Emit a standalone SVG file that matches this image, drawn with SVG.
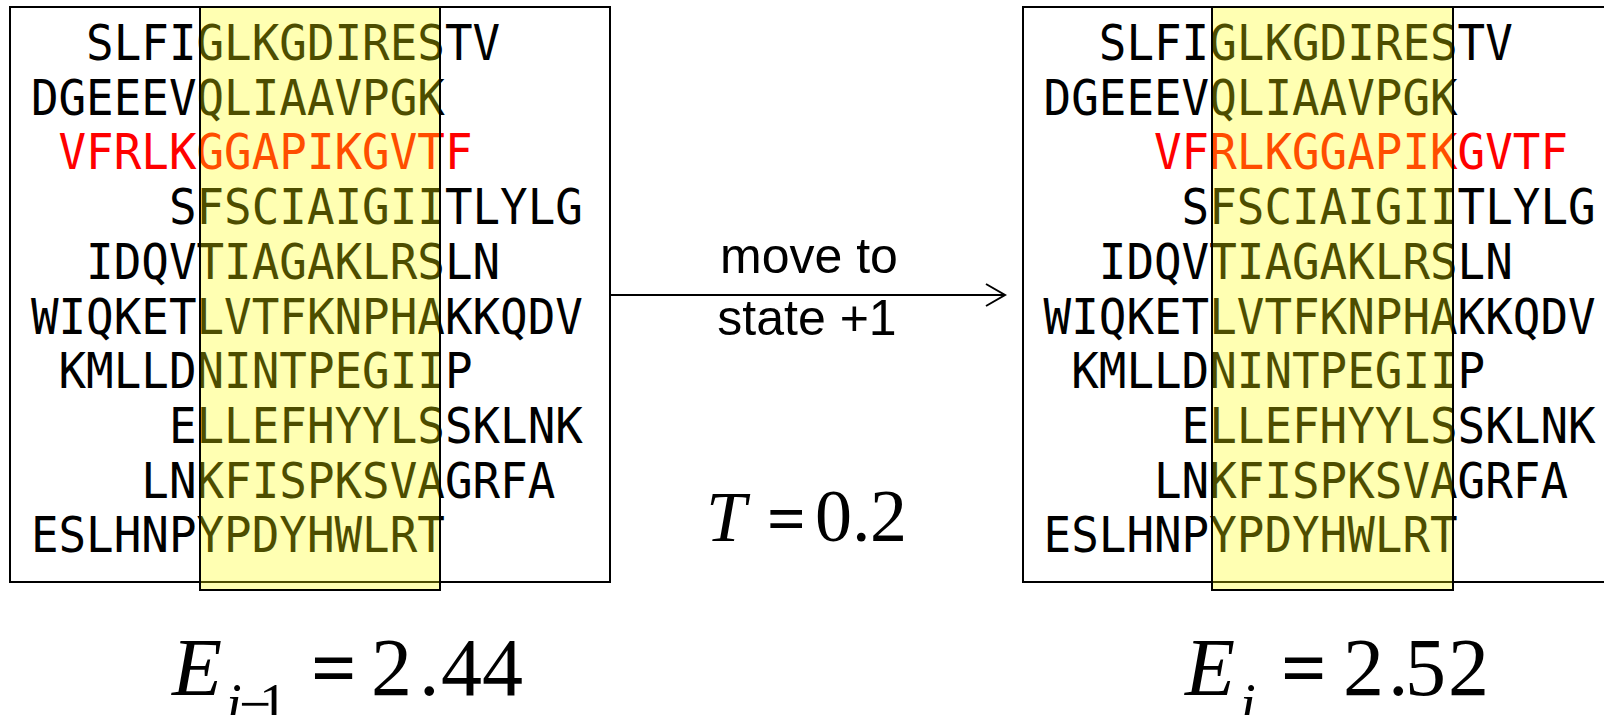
<svg xmlns="http://www.w3.org/2000/svg" width="1604" height="715" viewBox="0 0 1604 715">
  <style>
    .frame { fill: #ffffff; stroke: #000000; stroke-width: 2; }
    .window { fill: #ffff00; fill-opacity: 0.3; stroke: #000000; stroke-width: 2; }
    .seq { font-family: "DejaVu Sans Mono", "Liberation Mono", monospace; font-size: 49px; fill: #000000; }
    .hit { fill: #ff0000; }
    .label { font-family: "Liberation Sans", Arial, sans-serif; font-size: 50px; fill: #000000; text-anchor: middle; }
    .math { font-family: "Liberation Serif", "Times New Roman", serif; fill: #000000; }
    .it { font-style: italic; }
    .eq { font-weight: bold; }
    .edge { stroke: #000000; stroke-width: 2; fill: none; }
  </style>
  <defs>
    <marker id="chevron" markerUnits="userSpaceOnUse" markerWidth="24" markerHeight="26" refX="20" refY="12" orient="auto">
      <path d="M1,1 L20,12 L1,23" fill="none" stroke="#000000" stroke-width="2"/>
    </marker>
  </defs>

  <!-- state i-1: alignment with sliding window -->
  <g id="state-prev">
    <rect class="frame" x="10" y="7" width="600" height="575"/>
    <text class="seq" x="86.1" y="60" textLength="414" lengthAdjust="spacingAndGlyphs">SLFIGLKGDIRESTV</text>
    <text class="seq" x="30.9" y="114.7" textLength="414" lengthAdjust="spacingAndGlyphs">DGEEEVQLIAAVPGK</text>
    <text class="seq hit" x="58.5" y="169.4" textLength="414" lengthAdjust="spacingAndGlyphs">VFRLKGGAPIKGVTF</text>
    <text class="seq" x="168.9" y="224.1" textLength="414" lengthAdjust="spacingAndGlyphs">SFSCIAIGIITLYLG</text>
    <text class="seq" x="86.1" y="278.8" textLength="414" lengthAdjust="spacingAndGlyphs">IDQVTIAGAKLRSLN</text>
    <text class="seq" x="30.9" y="333.5" textLength="552" lengthAdjust="spacingAndGlyphs">WIQKETLVTFKNPHAKKQDV</text>
    <text class="seq" x="58.5" y="388.2" textLength="414" lengthAdjust="spacingAndGlyphs">KMLLDNINTPEGIIP</text>
    <text class="seq" x="168.9" y="442.9" textLength="414" lengthAdjust="spacingAndGlyphs">ELLEFHYYLSSKLNK</text>
    <text class="seq" x="141.3" y="497.6" textLength="414" lengthAdjust="spacingAndGlyphs">LNKFISPKSVAGRFA</text>
    <text class="seq" x="30.9" y="552.3" textLength="414" lengthAdjust="spacingAndGlyphs">ESLHNPYPDYHWLRT</text>
    <rect class="window" x="200" y="7" width="240" height="583"/>
  </g>

  <!-- state i: third sequence shifted by three positions -->
  <g id="state-next">
    <rect class="frame" x="1023" y="7" width="600" height="575"/>
    <text class="seq" x="1098.8" y="60" textLength="414" lengthAdjust="spacingAndGlyphs">SLFIGLKGDIRESTV</text>
    <text class="seq" x="1043.6" y="114.7" textLength="414" lengthAdjust="spacingAndGlyphs">DGEEEVQLIAAVPGK</text>
    <text class="seq hit" x="1154" y="169.4" textLength="414" lengthAdjust="spacingAndGlyphs">VFRLKGGAPIKGVTF</text>
    <text class="seq" x="1181.6" y="224.1" textLength="414" lengthAdjust="spacingAndGlyphs">SFSCIAIGIITLYLG</text>
    <text class="seq" x="1098.8" y="278.8" textLength="414" lengthAdjust="spacingAndGlyphs">IDQVTIAGAKLRSLN</text>
    <text class="seq" x="1043.6" y="333.5" textLength="552" lengthAdjust="spacingAndGlyphs">WIQKETLVTFKNPHAKKQDV</text>
    <text class="seq" x="1071.2" y="388.2" textLength="414" lengthAdjust="spacingAndGlyphs">KMLLDNINTPEGIIP</text>
    <text class="seq" x="1181.6" y="442.9" textLength="414" lengthAdjust="spacingAndGlyphs">ELLEFHYYLSSKLNK</text>
    <text class="seq" x="1154" y="497.6" textLength="414" lengthAdjust="spacingAndGlyphs">LNKFISPKSVAGRFA</text>
    <text class="seq" x="1043.6" y="552.3" textLength="414" lengthAdjust="spacingAndGlyphs">ESLHNPYPDYHWLRT</text>
    <rect class="window" x="1212" y="7" width="241" height="583"/>
  </g>

  <!-- transition -->
  <g id="connectors">
    <line class="edge" x1="611" y1="295" x2="1005" y2="295" marker-end="url(#chevron)"/>
  </g>
  <g id="transition-label">
    <text class="label" x="809" y="273">move to</text>
    <text class="label" x="807" y="335">state +1</text>
  </g>

  <!-- temperature and energies -->
  <g id="temperature" class="math">
    <text class="it" x="706" y="541" font-size="72">T</text>
    <text class="eq" x="767" y="541" font-size="68">=</text>
    <text x="815 852 870" y="541" font-size="74">0.2</text>
  </g>
  <g id="energy-prev" class="math">
    <text class="it" x="172" y="695" font-size="82">E</text>
    <text class="it" x="226" y="723" font-size="57">i</text>
    <text x="239 259" y="723" font-size="57">−1</text>
    <text class="eq" x="311" y="695" font-size="80">=</text>
    <text x="371 419 441 482" y="695" font-size="82">2.44</text>
  </g>
  <g id="energy-next" class="math">
    <text class="it" x="1185" y="695" font-size="82">E</text>
    <text class="it" x="1240" y="723" font-size="57">i</text>
    <text class="eq" x="1281" y="695" font-size="80">=</text>
    <text x="1343 1388 1405 1448" y="695" font-size="82">2.52</text>
  </g>
</svg>
